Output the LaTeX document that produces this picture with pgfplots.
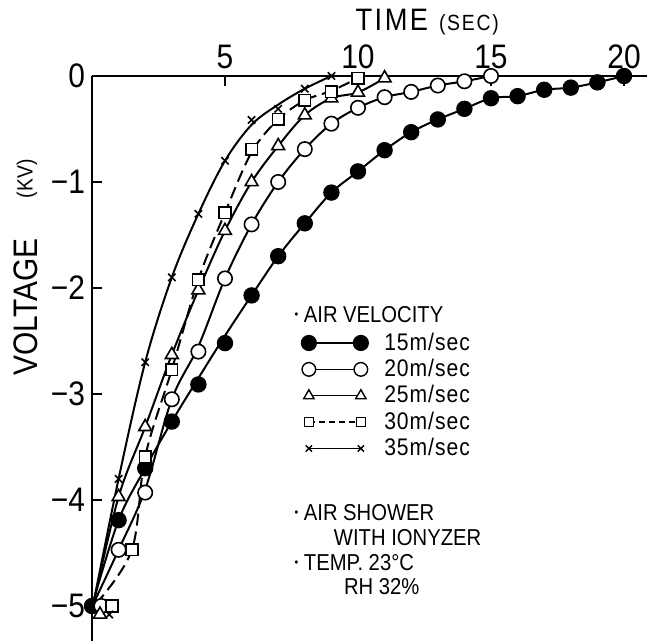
\documentclass[border=0pt]{standalone}
\usepackage{fontspec}
\setmainfont{Liberation Sans}[FakeStretch=0.88]
\usepackage{pgfplots}
\pgfplotsset{compat=1.18}

\newcommand\bul{\raisebox{0.35ex}{\fontsize{6}{6}\selectfont•}}
\pgfplotsset{
  curve/.style={black, line width=1pt, smooth, tension=0.55, no marks, forget plot},
  pts/.style={black, only marks, line width=0.8pt, forget plot},
}

\begin{document}
\begin{tikzpicture}
\begin{axis}[
  x=13.3pt, y=53pt,
  xmin=0, xmax=20.85, ymin=-5.33, ymax=0,
  axis x line*=top, axis y line*=left,
  axis line style={line width=1pt},
  xtick={5,10,15,20}, xticklabels={5,10,15,20},
  ytick={0,-1,-2,-3,-4,-5}, yticklabels={0,−1,−2,−3,−4,−5},
  tick align=inside, major tick length=5pt,
  tick style={line width=1pt, black},
  ticklabel style={font=\fontsize{17}{17}\selectfont},
  clip=false,
  legend image code/.code={\draw[mark repeat=1,#1] plot coordinates {(0pt,0pt) (26pt,0pt)};},
  legend style={draw=none, fill=none, at={(axis cs:7.86,-2.40)}, anchor=north west,
    inner sep=0pt, font=\fontsize{12}{12}\selectfont\addfontfeature{LetterSpace=4},
    row sep=1pt, column sep=7pt, nodes={inner sep=1pt}},
  legend cell align=left,
]
\coordinate (O) at (axis cs:0,0);

% legend samples
\addlegendimage{black, line width=0.7pt, mark=*, mark size=3.7pt}
\addlegendimage{black, line width=0.7pt, mark=*, mark size=3.4pt, mark options={fill=white}}
\addlegendimage{black, line width=0.7pt, mark=triangle*, mark size=3pt, mark options={fill=white}}
\addlegendimage{black, line width=0.7pt, dash pattern=on 3pt off 2pt, mark=square*, mark size=2.3pt, mark options={fill=white, solid}}
\addlegendimage{black, line width=0.7pt, mark=x, mark size=2.2pt}
\legend{15m/sec,20m/sec,25m/sec,30m/sec,35m/sec}

% 15 m/sec
\addplot[curve] coordinates {(0,-5) (1,-4.19) (2,-3.70) (3,-3.26) (4,-2.85) (5,-2.45) (6,-2.07)
  (7,-1.70) (8,-1.39) (9,-1.10) (10,-0.90) (11,-0.70) (12,-0.53) (13,-0.41) (14,-0.31)
  (15,-0.21) (16,-0.19) (17,-0.13) (18,-0.11) (19,-0.06) (20,0)};
% 20 m/sec
\addplot[curve] coordinates {(0.05,-4.98) (1,-4.47) (2,-3.90) (3,-3.05) (4,-2.55) (5,-1.91) (6,-1.40)
  (7,-1.00) (8,-0.69) (9,-0.45) (10,-0.30) (11,-0.20) (12,-0.15) (13,-0.09) (14,-0.05) (15,0)};
% 25 m/sec
\addplot[curve] coordinates {(0.05,-4.98) (1,-3.97) (2,-3.31) (3,-2.63) (4,-2.02) (5,-1.46) (6,-1.00)
  (7,-0.66) (8,-0.37) (9,-0.21) (10,-0.155) (11,-0.02)};
% 30 m/sec
\addplot[curve, dash pattern=on 6pt off 3pt] coordinates {(0.15,-4.98) (1.5,-4.47) (2,-3.59) (3,-2.77) (4,-1.92)
  (5,-1.29) (6,-0.72) (7,-0.41) (8,-0.23) (9,-0.14) (10,-0.02)};
% 35 m/sec
\addplot[curve] coordinates {(0.05,-4.98) (1,-3.80) (2,-2.70) (3,-1.90) (4,-1.30) (5,-0.80)
  (6,-0.46) (7,-0.27) (8,-0.12) (9,0)};

\addplot[pts, mark=*, mark size=3.7pt] coordinates {(0,-5) (1,-4.19) (2,-3.70) (3,-3.26) (4,-2.91)
  (5,-2.52) (6,-2.07) (7,-1.70) (8,-1.39) (9,-1.10) (10,-0.90) (11,-0.70) (12,-0.53) (13,-0.41)
  (14,-0.31) (15,-0.21) (16,-0.19) (17,-0.13) (18,-0.11) (19,-0.06) (20,0)};
\addplot[pts, mark=*, mark size=3.6pt, mark options={fill=white}] coordinates {(0.35,-5.0) (1,-4.47)
  (2,-3.93) (3,-3.05) (4,-2.60) (5,-1.91) (6,-1.40) (7,-1.00) (8,-0.69) (9,-0.45) (10,-0.30)
  (11,-0.20) (12,-0.15) (13,-0.09) (14,-0.05) (15,0)};
\addplot[pts, mark=triangle*, mark size=3.7pt, mark options={fill=white}] coordinates {(0.3,-5.08)
  (1,-3.97) (2,-3.31) (3,-2.63) (4,-2.02) (5,-1.46) (6,-1.00) (7,-0.66) (8,-0.37) (9,-0.21)
  (10,-0.155) (11,-0.02)};
\addplot[pts, mark=square*, mark size=2.9pt, mark options={fill=white}] coordinates {(0.75,-5.0)
  (1.5,-4.47) (2,-3.59) (3,-2.77) (4,-1.92) (5,-1.29) (6,-0.69) (7,-0.41) (8,-0.23) (9,-0.15) (10,-0.02)};
\addplot[pts, mark=x, mark size=2.6pt] coordinates {(0.65,-5.08) (1,-3.80) (2,-2.70) (3,-1.90)
  (4,-1.30) (5,-0.80) (6,-0.415) (7,-0.31) (8,-0.12) (9,0)};

% labels and notes
\node[font=\fontsize{15.5}{15.5}\selectfont\addfontfeature{LetterSpace=8}] at (axis cs:12.6,0.51)
  {TIME\hspace{0.35em}{\fontsize{11}{11}\selectfont (SEC)}};
\node[rotate=90, font=\fontsize{17}{17}\selectfont] at (axis cs:-2.5,-2.18) {VOLTAGE};
\node[rotate=90, font=\fontsize{11}{11}\selectfont] at (axis cs:-2.45,-0.97) {(KV)};
\node[anchor=west, font=\fontsize{11.5}{11.5}\selectfont] at (axis cs:7.35,-2.25) {\bul\ AIR VELOCITY};
\node[anchor=west, font=\fontsize{11.5}{11.5}\selectfont] at (axis cs:7.35,-4.12) {\bul\ AIR SHOWER};
\node[anchor=west, font=\fontsize{11.5}{11.5}\selectfont] at (axis cs:8.83,-4.35) {WITH IONYZER};
\node[anchor=west, font=\fontsize{11.5}{11.5}\selectfont] at (axis cs:7.35,-4.59) {\bul\ TEMP. 23°C};
\node[anchor=west, font=\fontsize{11.5}{11.5}\selectfont] at (axis cs:9.21,-4.82) {RH 32\%};
\end{axis}
\pgfresetboundingbox
\path[use as bounding box] ([shift={(-46pt,38pt)}]O) rectangle ([shift={(278pt,-282.5pt)}]O);
\end{tikzpicture}
\end{document}
